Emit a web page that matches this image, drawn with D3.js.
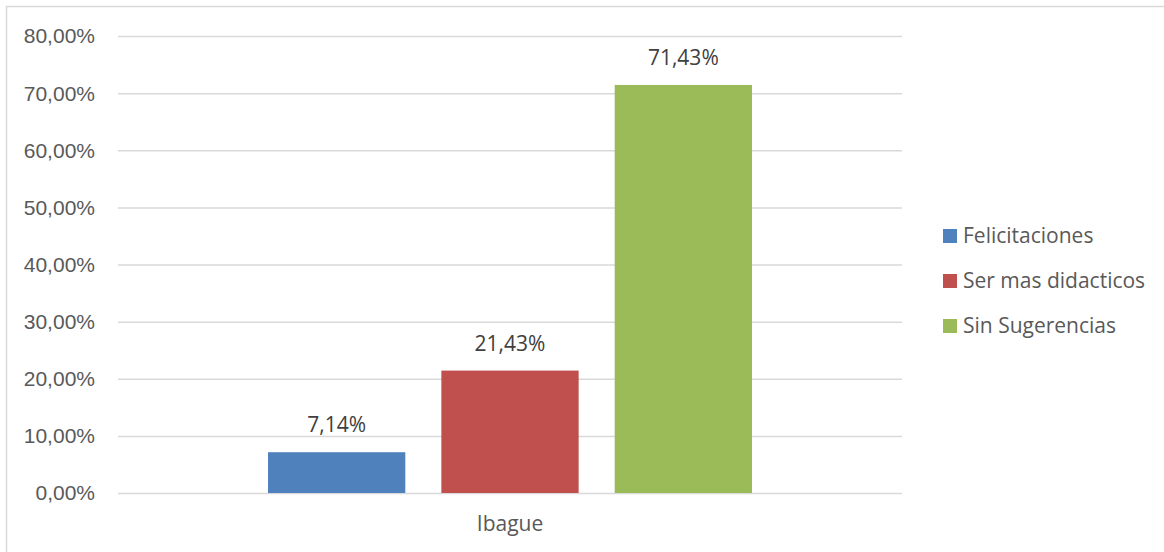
<!DOCTYPE html>
<html>
<head>
<meta charset="utf-8">
<script src="https://cdn.jsdelivr.net/npm/d3@7"></script>
<style>
  body { margin: 0; background: #fff; }
  svg { display: block; font-family: "Open Sans", sans-serif; }
</style>
</head>
<body>
<div id="chart"></div>
<script>
// chart data
const categories = ["Ibague"];
const seriesNames = ["Felicitaciones", "Ser mas didacticos", "Sin Sugerencias"];
const seriesValues = [7.14, 21.43, 71.43];   // percent, one value per series for "Ibague"
const seriesColors = ["#4f81bd", "#c0504d", "#9bbb59"];
const yTicks = [0, 10, 20, 30, 40, 50, 60, 70, 80];

const W = 1164, H = 552;
const plot = { left: 118, right: 902, top: 36, bottom: 493 };

const svg = d3.select('#chart').append('svg')
  .attr('width', W)
  .attr('height', H);

// outer frame (only top/left visible in the crop)
svg.append('rect')
  .attr('x', 6.5).attr('y', 6.5)
  .attr('width', W + 20).attr('height', H + 20)
  .attr('fill', 'none')
  .attr('stroke', '#d9d9d9')
  .attr('stroke-width', 1.5);

const fmt = v => v.toFixed(2).replace('.', ',') + '%';

const y = d3.scaleLinear().domain([0, 80]).range([plot.bottom, plot.top]);
const x0 = d3.scaleBand().domain(categories).range([plot.left, plot.right])
  .paddingInner(0).paddingOuter(0.31);
const x1 = d3.scaleBand().domain(seriesNames).range([0, x0.bandwidth()])
  .paddingInner(0.208).paddingOuter(0);

// gridlines + tick labels via axis
const yAxis = svg.append('g')
  .attr('transform', `translate(${plot.left},0)`)
  .call(d3.axisLeft(y).tickValues(yTicks).tickFormat(fmt)
    .tickSize(-(plot.right - plot.left)).tickPadding(23));
yAxis.select('.domain').remove();
yAxis.selectAll('.tick line').attr('stroke', '#d9d9d9').attr('stroke-width', 1.5);
yAxis.selectAll('.tick text')
  .attr('fill', '#595959')
  .style('font-size', '21px')
  .attr('dy', '0.33em');

// bars
const group = svg.append('g');
categories.forEach(cat => {
  const g = group.append('g').attr('transform', `translate(${x0(cat)},0)`);
  g.selectAll('rect')
    .data(seriesNames.map((name, i) => ({ name, value: seriesValues[i], color: seriesColors[i] })))
    .join('rect')
    .attr('x', d => x1(d.name))
    .attr('y', d => y(d.value))
    .attr('width', x1.bandwidth())
    .attr('height', d => y(0) - y(d.value))
    .attr('fill', d => d.color);

  // data labels
  g.selectAll('text.lbl')
    .data(seriesNames.map((name, i) => ({ name, value: seriesValues[i] })))
    .join('text')
    .attr('class', 'lbl')
    .attr('x', d => x1(d.name) + x1.bandwidth() / 2)
    .attr('y', d => y(d.value) - 20)
    .attr('text-anchor', 'middle')
    .attr('fill', '#404040')
    .style('font-size', '21px')
    .text(d => d.value.toFixed(2).replace('.', ',') + '%');
});

// category axis label
svg.append('g').selectAll('text')
  .data(categories)
  .join('text')
  .attr('x', d => x0(d) + x0.bandwidth() / 2)
  .attr('y', 531)
  .attr('text-anchor', 'middle')
  .attr('fill', '#595959')
  .style('font-size', '21px')
  .text(d => d);

// legend
const legend = svg.append('g').attr('transform', 'translate(943,236)');
seriesNames.forEach((name, i) => {
  const row = legend.append('g').attr('transform', `translate(0,${i * 45})`);
  row.append('rect')
    .attr('x', 0).attr('y', -7)
    .attr('width', 14).attr('height', 14)
    .attr('fill', seriesColors[i]);
  row.append('text')
    .attr('x', 20)
    .attr('y', 0)
    .attr('dy', '0.35em')
    .attr('fill', '#595959')
    .style('font-size', '21px')
    .text(name);
});
</script>
</body>
</html>
